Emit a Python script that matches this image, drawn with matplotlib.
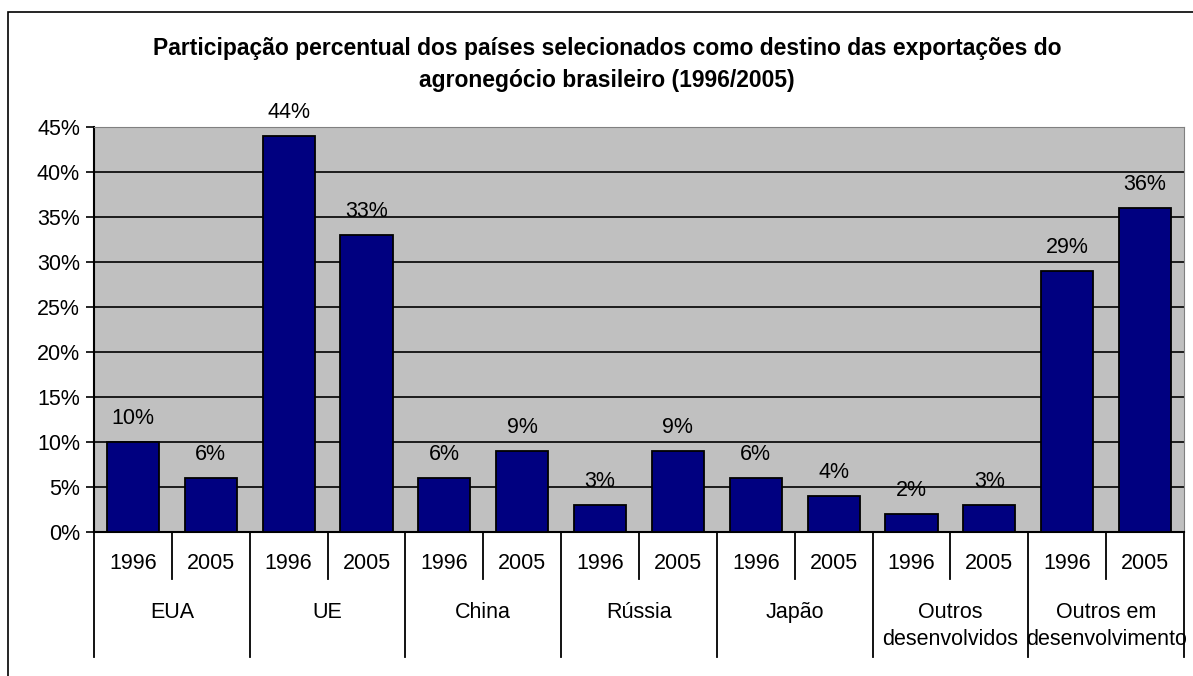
import numpy as np
import matplotlib
matplotlib.use("Agg")
import matplotlib.pyplot as plt
from matplotlib.patches import Rectangle
from matplotlib.ticker import FuncFormatter

plt.rcParams['font.family'] = ['Liberation Sans', 'DejaVu Sans']

# data
countries = ["EUA", "UE", "China", "Rússia", "Japão",
             "Outros\ndesenvolvidos", "Outros em\ndesenvolvimento"]
years = ["1996", "2005"]
share_1996 = [10, 44, 6, 3, 6, 2, 29]
share_2005 = [6, 33, 9, 9, 4, 3, 36]

values = []
year_labels = []
for a, b in zip(share_1996, share_2005):
    values += [a, b]
    year_labels += years
x = np.arange(len(values))

LABEL_FS = 15.5

fig = plt.figure(figsize=(11.93, 6.76), dpi=100)
# outer chart border
fig.patches.append(Rectangle((8 / 1193, -0.05), 1.1, 1 - 12 / 676 + 0.05,
                             transform=fig.transFigure, fill=False,
                             edgecolor="black", linewidth=1.2))

ax = fig.add_axes([94 / 1193, 1 - 532 / 676, (1184 - 94) / 1193, (532 - 127) / 676])
ax.set_facecolor("#C0C0C0")

ax.bar(x, values, width=0.67, color="#000080", edgecolor="black", linewidth=1.3, zorder=3)

for xi, v in zip(x, values):
    ax.annotate(f"{v}%", (xi, v), xytext=(0, 17), textcoords="offset points",
                ha="center", va="center", fontsize=LABEL_FS, zorder=4)

ax.set_xlim(-0.5, len(values) - 0.5)
ax.set_ylim(0, 45)
ax.set_yticks(np.arange(0, 46, 5))
ax.yaxis.set_major_formatter(FuncFormatter(lambda v, p: f"{v:.0f}%"))
ax.tick_params(axis="y", labelsize=LABEL_FS, length=6, width=1.2, direction="out", pad=4)
ax.set_xticks([])

for yv in range(5, 45, 5):
    ax.axhline(yv, color="black", linewidth=1.2, zorder=1)

ax.spines["left"].set_linewidth(1.5)
ax.spines["bottom"].set_linewidth(1.5)
ax.spines["top"].set_color("#808080")
ax.spines["right"].set_color("#808080")

# two-level category axis
trans = ax.get_xaxis_transform()
for i in range(len(share_1996)):
    left = 2 * i - 0.5
    ax.plot([left, left], [0, -0.309], color="black", lw=1.3, transform=trans, clip_on=False)
    ax.plot([2 * i + 0.5, 2 * i + 0.5], [0, -0.116], color="black", lw=1.3,
            transform=trans, clip_on=False)
ax.plot([len(values) - 0.5] * 2, [0, -0.309], color="black", lw=1.3, transform=trans, clip_on=False)

for xi, lab in zip(x, year_labels):
    ax.text(xi, -0.079, lab, transform=trans, ha="center", va="center", fontsize=LABEL_FS)

for i, name in enumerate(countries):
    yc = -0.232 if "\n" in name else -0.198
    ax.text(2 * i + 0.5, yc, name, transform=trans, ha="center", va="center",
            fontsize=LABEL_FS, linespacing=1.4)

fig.text(0.509, 1 - 64 / 676,
         "Participação percentual dos países selecionados como destino das exportações do\n"
         "agronegócio brasileiro (1996/2005)",
         ha="center", va="center", fontsize=16.5, fontweight="bold", linespacing=1.5)

fig.savefig("out.png", dpi=100)
